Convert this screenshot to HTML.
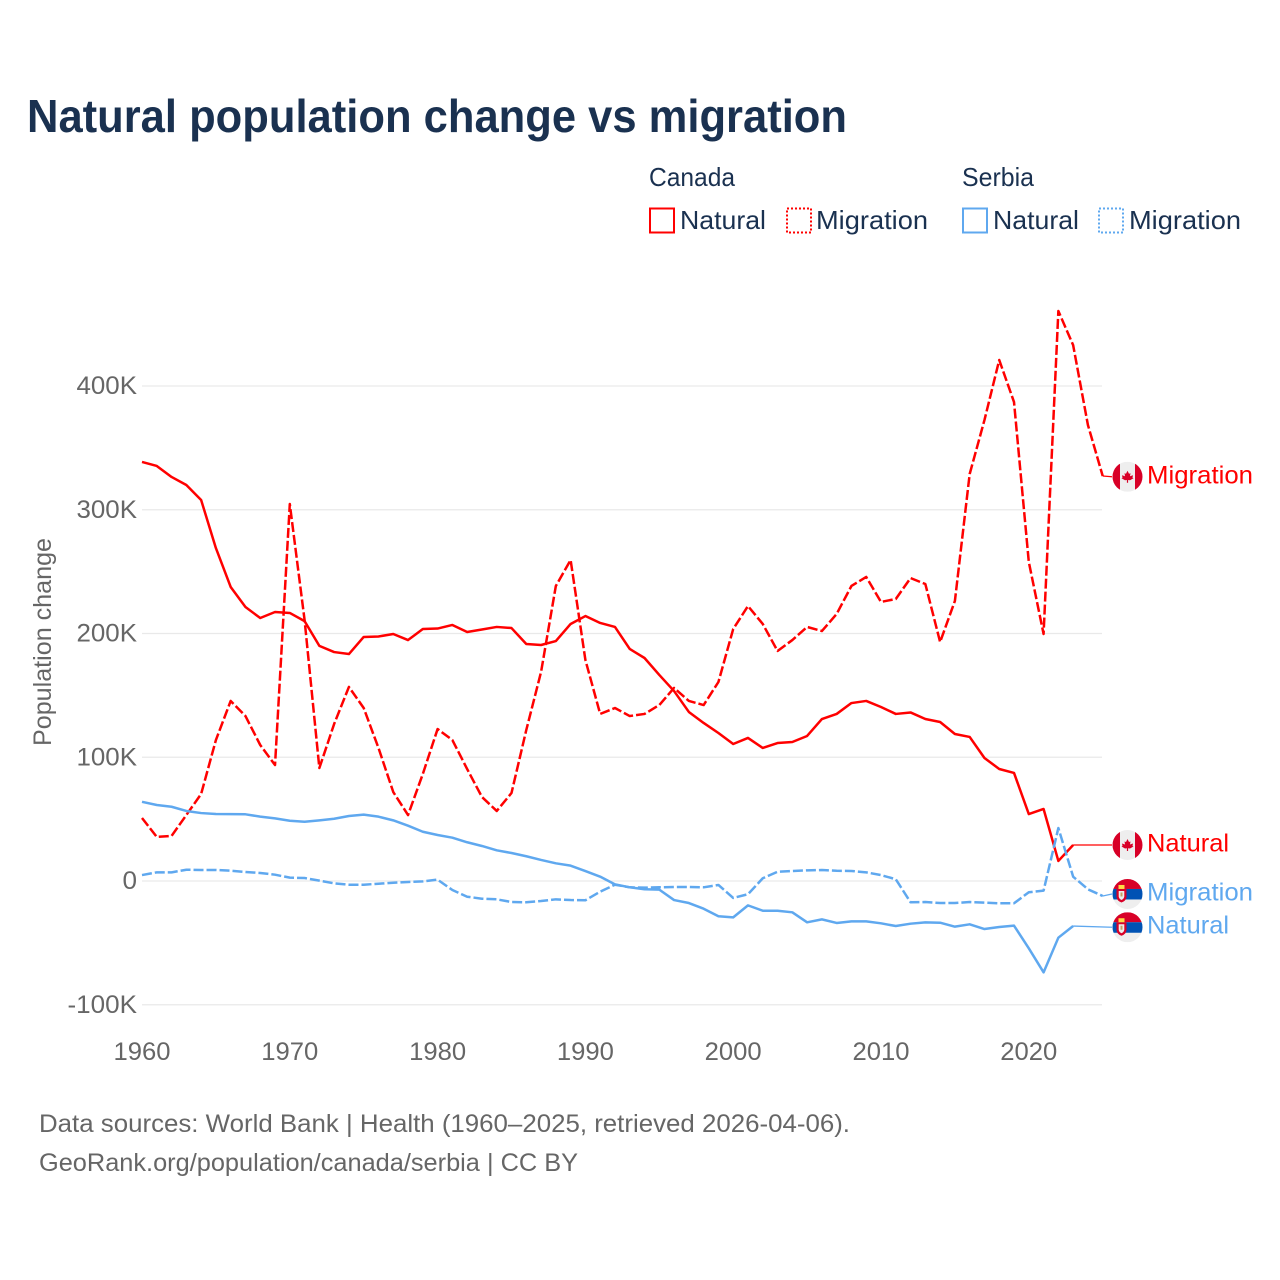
<!DOCTYPE html>
<html lang="en">
<head>
<meta charset="utf-8">
<title>Natural population change vs migration</title>
<style>
html,body{margin:0;padding:0;background:#fff;}
svg{display:block;font-family:"Liberation Sans",sans-serif;}
</style>
</head>
<body>
<svg id="chart" xmlns="http://www.w3.org/2000/svg" width="1280" height="1280" viewBox="0 0 1280 1280">
<defs>
<clipPath id="flag-clip"><circle cx="0" cy="0" r="15"/></clipPath>
<g id="flag-canada" clip-path="url(#flag-clip)">
<rect x="-15" y="-15" width="30" height="30" fill="#eeeeee"/>
<rect x="-15" y="-15" width="7.5" height="30" fill="#d80027"/>
<rect x="7.5" y="-15" width="7.5" height="30" fill="#d80027"/>
<polygon points="0,-6 1.5,-3 3,-3.5 2.5,-0.5 5.5,-1.5 5,1 6,1.5 2.5,3.5 0.6,3.2 0.6,6 -0.6,6 -0.6,3.2 -2.5,3.5 -6,1.5 -5,1 -5.5,-1.5 -2.5,-0.5 -3,-3.5 -1.5,-3" fill="#d80027"/>
</g>
<g id="flag-serbia" clip-path="url(#flag-clip)">
<rect x="-15" y="-15" width="30" height="30" fill="#eeeeee"/>
<rect x="-15" y="-15" width="30" height="10" fill="#d80027"/>
<rect x="-15" y="-5" width="30" height="10.5" fill="#0052b4"/>
<path d="M-11,-5 L-1,-5 L-1,3 Q-1.5,7 -6,8.5 Q-10.5,7 -11,3 Z" fill="#d80027"/>
<rect x="-9" y="-9" width="6" height="4" fill="#ffda44"/>
<path d="M-8.8,-3 L-3.2,-3 L-3.2,2.5 Q-3.6,5 -6,6 Q-8.4,5 -8.8,2.5 Z" fill="#eeeeee"/>
<rect x="-7" y="-1.5" width="2" height="4" fill="#c8a060"/>
</g>
</defs>

<text x="27" y="132" font-size="46" font-weight="700" fill="#1a3150" textLength="820" lengthAdjust="spacingAndGlyphs">Natural population change vs migration</text>

<g font-size="26" fill="#1a3150">
<text x="649" y="186" textLength="86" lengthAdjust="spacingAndGlyphs">Canada</text>
<text x="962" y="186" textLength="72" lengthAdjust="spacingAndGlyphs">Serbia</text>
<rect x="650" y="208.5" width="24" height="24" fill="none" stroke="#ff0000" stroke-width="2"/>
<text x="680" y="229" textLength="86" lengthAdjust="spacingAndGlyphs">Natural</text>
<rect x="787" y="208.5" width="24" height="24" fill="none" stroke="#ff0000" stroke-width="2" stroke-dasharray="2,2"/>
<text x="816" y="229" textLength="112" lengthAdjust="spacingAndGlyphs">Migration</text>
<rect x="963" y="208.5" width="24" height="24" fill="none" stroke="#5fa8ef" stroke-width="2"/>
<text x="993" y="229" textLength="86" lengthAdjust="spacingAndGlyphs">Natural</text>
<rect x="1099" y="208.5" width="24" height="24" fill="none" stroke="#5fa8ef" stroke-width="2" stroke-dasharray="2,2"/>
<text x="1129" y="229" textLength="112" lengthAdjust="spacingAndGlyphs">Migration</text>
</g>

<text transform="translate(51 642) rotate(-90)" text-anchor="middle" font-size="25" fill="#666666" textLength="208" lengthAdjust="spacingAndGlyphs">Population change</text>

<g id="grid-layer"></g>
<g id="tick-layer"></g>
<g id="series-layer"></g>
<g id="label-layer"></g>

<text x="39" y="1132" font-size="25" fill="#666666" textLength="811" lengthAdjust="spacingAndGlyphs">Data sources: World Bank | Health (1960–2025, retrieved 2026-04-06).</text>
<text x="39" y="1171" font-size="25" fill="#666666" textLength="539" lengthAdjust="spacingAndGlyphs">GeoRank.org/population/canada/serbia | CC BY</text>
</svg>

<script>
const startYear = 1960;
const xTickYears = [1960, 1970, 1980, 1990, 2000, 2010, 2020];
const xTickLabels = ["1960", "1970", "1980", "1990", "2000", "2010", "2020"];
const yTickValues = [-100, 0, 100, 200, 300, 400];
const yTickLabels = ["-100K", "0", "100K", "200K", "300K", "400K"];

const canadaNatural = [338.6,335.4,326.5,320,307.9,269,237.6,221.4,212.5,217.4,216.6,210,190,185,183.4,197.2,197.6,199.6,194.7,203.6,204,206.9,201.2,203.2,205.3,204.4,191.5,190.7,193.9,207.7,214.1,208.5,205.3,187.5,180.2,166.5,153.5,136.6,127.7,119.6,110.7,115.6,107.5,111.5,112.3,117.2,130.9,135,143.8,145.5,140.6,135,136.2,130.9,128.5,118.8,116.4,99.4,90.5,87.3,54.1,58.2,16.2,29.1];
const canadaMigration = [50.9,35.6,36.4,53.3,70.3,113.9,145.5,133.3,109.9,93.7,304.6,210.9,91.3,126.9,156.8,139.8,107.5,71.9,53.3,86.5,122.8,113.9,90.5,67.9,56.6,71.1,122,168.9,238.4,259.4,178.6,135,139.8,133.3,135,142.2,156,145.5,142.2,160.8,203.6,222.2,207.7,185.9,194.7,205.3,202,215.8,238.4,245.7,225.5,227.9,244.8,240,193.1,226.3,328.9,372.5,421,387,257.8,199.6,460.6,433,368.5,327.3];
const serbiaNatural = [64,61.4,60,56.6,54.9,54.1,54,53.9,52,50.6,48.7,47.9,49,50.3,52.5,53.6,52,49,44.7,39.8,37.2,35,31.3,28.3,24.8,22.6,20,17,14.3,12.4,8,3.5,-2.7,-5.1,-6.7,-7,-15.4,-17.8,-22.4,-28.5,-29.4,-19.7,-24,-24,-25.3,-33.4,-31,-33.9,-32.6,-32.6,-34.2,-36.4,-34.5,-33.4,-33.7,-36.9,-35,-38.8,-37.2,-36.1,-54.4,-73.8,-45.8,-36.4];
const serbiaMigration = [4.8,7,7,9.1,8.9,8.9,8.3,7.3,6.5,5.1,2.7,2.4,0.3,-1.9,-3,-3,-2.2,-1.4,-0.8,-0.3,1.1,-7.3,-12.7,-14.3,-14.8,-17,-17.2,-16.2,-14.8,-15.4,-15.6,-8.6,-3,-5.1,-5.4,-5.1,-4.8,-4.8,-5.1,-3.2,-13.7,-10.7,2.2,7.5,8.1,8.6,8.9,8.3,8.1,7,4.8,1.4,-17.2,-17,-17.8,-17.8,-17,-17.5,-18,-18,-9.1,-7.8,42.8,3.5,-6.7,-12.1];

const RED = "#ff0000";
const BLUE = "#5fa8ef";
const NS = "http://www.w3.org/2000/svg";

function xScale(year) { return 142 + (year - startYear) * 14.78; }
function yScale(v) { return 881 - v * 1.2375; }

function make(tag, parent, attrs) {
  const el = document.createElementNS(NS, tag);
  for (const k in attrs) el.setAttribute(k, attrs[k]);
  parent.appendChild(el);
  return el;
}

function tickWidth(label) {
  let w = 0;
  for (const c of label) w += c === "-" ? 9 : c === "K" ? 17 : 14.5;
  return w;
}

const gridLayer = document.getElementById("grid-layer");
const tickLayer = document.getElementById("tick-layer");
const seriesLayer = document.getElementById("series-layer");
const labelLayer = document.getElementById("label-layer");

yTickValues.forEach(function (v, i) {
  const line = make("line", gridLayer, { x1: 142, x2: 1102, y1: yScale(v), y2: yScale(v), stroke: "#e9e9e9", "stroke-width": 1.2 });
  
  
  const t = make("text", tickLayer, { x: 137, y: yScale(v) + 8, "text-anchor": "end", "font-size": 25, fill: "#666666" });
  t.textContent = yTickLabels[i];
  t.setAttribute('textLength', tickWidth(yTickLabels[i]));
  t.setAttribute('lengthAdjust', 'spacingAndGlyphs');
  
  
});

xTickYears.forEach(function (yr, i) {
  const t = make("text", tickLayer, { x: xScale(yr), y: 1060, "text-anchor": "middle", "font-size": 25, fill: "#666666", textLength: 57, lengthAdjust: "spacingAndGlyphs" });
  t.textContent = xTickLabels[i];
  
  
});

function drawLine(values, color, dashed) {
  const pts = values.map(function (v, i) { return xScale(startYear + i).toFixed(2) + "," + yScale(v).toFixed(2); }).join(" ");
  const attrs = { points: pts, fill: "none", stroke: color, "stroke-width": 2.5, "stroke-linejoin": "round" };
  if (dashed) attrs["stroke-dasharray"] = "10,3";
  return make("polyline", seriesLayer, attrs);
}

const l1 = drawLine(canadaMigration, RED, true);


const l2 = drawLine(canadaNatural, RED, false);


const l3 = drawLine(serbiaMigration, BLUE, true);


const l4 = drawLine(serbiaNatural, BLUE, false);



function drawEndLabel(values, color, flagId, text, textWidth, dodge) {
  const lastX = xScale(startYear + values.length - 1);
  const lastY = yScale(values[values.length - 1]);
  const ly = lastY + dodge;
  const g = make("g", labelLayer, {});
  make("polyline", g, { points: lastX + "," + lastY + " " + 1112 + "," + ly, fill: "none", stroke: color, "stroke-width": 1.3 });
  make("use", g, { href: "#" + flagId, transform: "translate(1127.5 " + ly + ")" });
  const t = make("text", g, { x: 1147, y: ly + 6.5, "font-size": 25, fill: color, textLength: textWidth, lengthAdjust: "spacingAndGlyphs" });
  t.textContent = text;
  return g;
}

const e1 = drawEndLabel(canadaMigration, RED, "flag-canada", "Migration", 106, 0.8);


const e2 = drawEndLabel(canadaNatural, RED, "flag-canada", "Natural", 82, 0);


const e3 = drawEndLabel(serbiaMigration, BLUE, "flag-serbia", "Migration", 106, -2);


const e4 = drawEndLabel(serbiaNatural, BLUE, "flag-serbia", "Natural", 82, 1.2);


</script>
</body>
</html>
